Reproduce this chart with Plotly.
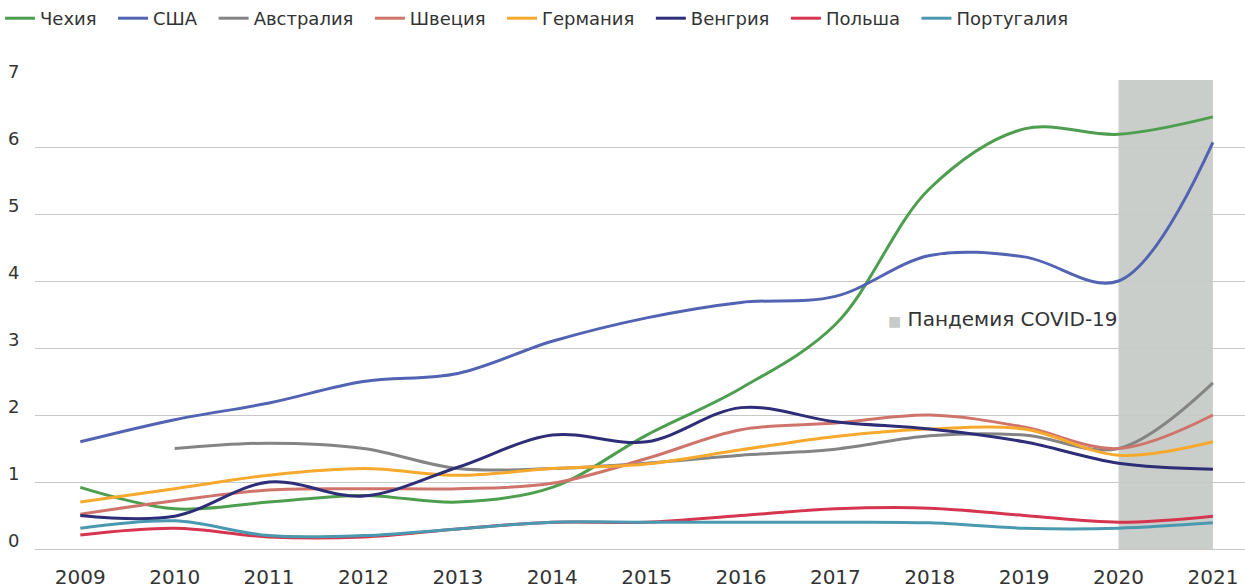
import plotly.graph_objects as go

years = list(range(2009, 2022))

czech = [0.92, 0.6, 0.7, 0.8, 0.7, 0.92, 1.7, 2.4, 3.35, 5.38, 6.27, 6.19, 6.45]
usa = [1.6, 1.93, 2.18, 2.5, 2.62, 3.1, 3.45, 3.68, 3.77, 4.38, 4.36, 4.0, 6.07]
australia = [None, 1.5, 1.58, 1.5, 1.2, 1.2, 1.28, 1.4, 1.49, 1.69, 1.7, 1.5, 2.48]
sweden = [0.52, 0.72, 0.88, 0.9, 0.9, 0.98, 1.35, 1.78, 1.88, 2.0, 1.82, 1.5, 2.0]
germany = [0.7, 0.9, 1.1, 1.2, 1.1, 1.2, 1.27, 1.48, 1.68, 1.79, 1.79, 1.4, 1.6]
hungary = [0.5, 0.49, 1.0, 0.79, 1.22, 1.7, 1.6, 2.11, 1.9, 1.79, 1.6, 1.28, 1.19]
poland = [0.21, 0.31, 0.18, 0.18, 0.3, 0.4, 0.4, 0.5, 0.6, 0.61, 0.5, 0.4, 0.49]
portugal = [0.31, 0.42, 0.2, 0.2, 0.3, 0.4, 0.4, 0.4, 0.4, 0.39, 0.31, 0.31, 0.39]

series = [
    ("Чехия", czech, "#4d9e4f"),
    ("США", usa, "#5263b4"),
    ("Австралия", australia, "#848484"),
    ("Швеция", sweden, "#cf746b"),
    ("Германия", germany, "#f7a92e"),
    ("Венгрия", hungary, "#2e2d78"),
    ("Польша", poland, "#d6354f"),
    ("Португалия", portugal, "#4b99b0"),
]

covid_start, covid_end = 2020, 2021

fig = go.Figure()

for name, vals, color in series:
    fig.add_trace(go.Scatter(
        x=years, y=vals, mode="lines",
        name=name + "\u00a0\u00a0",  # a little extra room between legend items
        line=dict(color=color, width=3, shape="spline", smoothing=1.0),
        connectgaps=False,
    ))

# COVID shaded band
fig.add_shape(
    type="rect", xref="x", yref="y",
    x0=covid_start, x1=covid_end, y0=0, y1=7,
    fillcolor="rgb(202,206,202)", line=dict(width=0), layer="below",
)
fig.add_annotation(
    x=2017.54, y=3.43, xref="x", yref="y",
    text="<span style='color:#c8ccc8;font-size:14px'>■</span> Пандемия COVID-19",
    showarrow=False, xanchor="left", yanchor="middle",
    font=dict(size=20, color="#333333"),
)

fig.update_layout(
    width=1245, height=588,
    margin=dict(l=35, r=0, t=80, b=39),
    plot_bgcolor="white", paper_bgcolor="white",
    font=dict(family="DejaVu Sans, sans-serif", size=20, color="#333333"),
    legend=dict(
        orientation="h", xref="container", yref="container",
        x=0, y=1, xanchor="left", yanchor="top",
        font=dict(size=18, color="#333333"),
        itemwidth=30, tracegroupgap=0,
    ),
    xaxis=dict(
        range=[2008.52, 2021.34], tickmode="array", tickvals=years,
        showgrid=False, zeroline=False, showline=False, automargin=False,
        ticks="outside", ticklen=1, tickcolor="white", ticklabelstandoff=9,
    ),
    yaxis=dict(
        range=[0, 7], dtick=1, showgrid=True, gridcolor="#c8c8c8",
        gridwidth=1, zeroline=True, zerolinecolor="#c8c8c8", zerolinewidth=1,
        tickfont=dict(size=18), automargin=False,
        ticks="outside", ticklen=11, tickcolor="rgba(0,0,0,0)",
        ticklabelstandoff=0, ticklabelshift=-8,
    ),
)

# drop the default 8px body margin so the figure fills the window
fig.write_html("out.html", config={"displayModeBar": False},
               post_script="document.body.style.margin='0';")
